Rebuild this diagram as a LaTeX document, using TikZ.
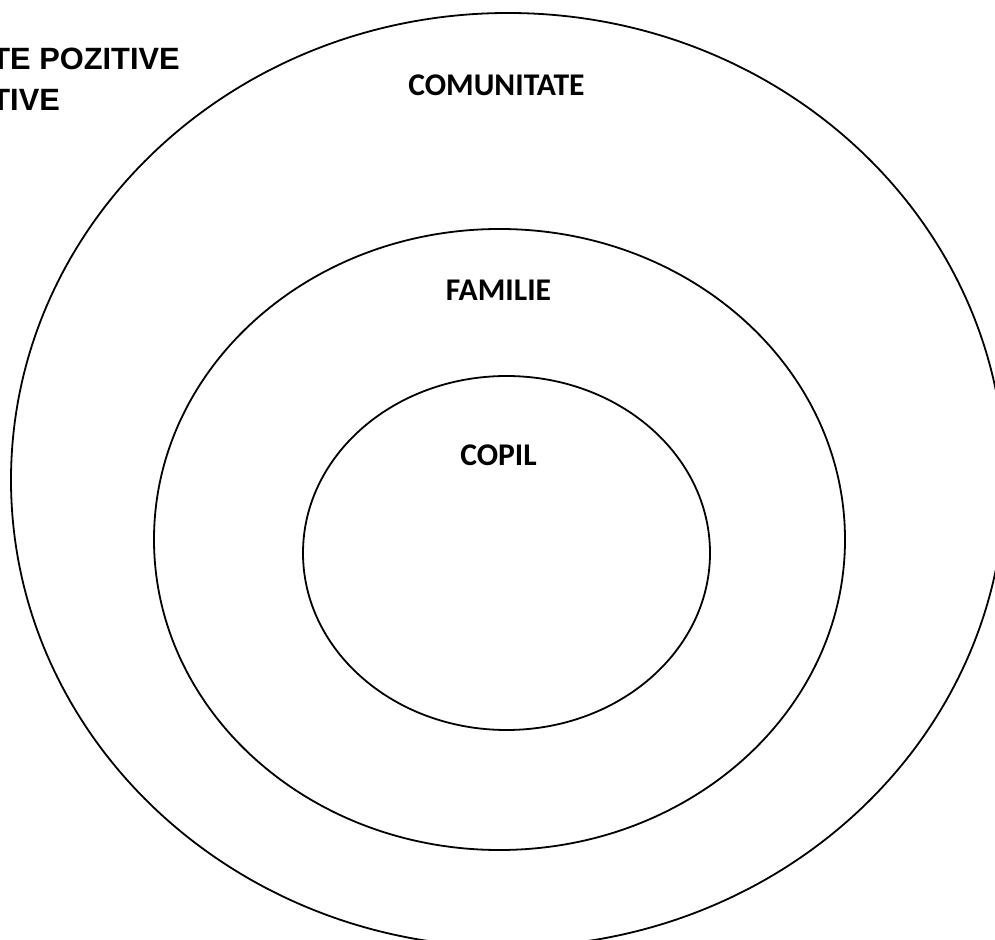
\documentclass[tikz,border=0pt]{standalone}
\usepackage{fontspec}
\setmainfont{Carlito}
\newfontfamily\arialfont{Liberation Sans}
\usepackage{tikz}
\usetikzlibrary{positioning}

\tikzset{
  ring/.style={draw=black,line width=0.9pt},
  eticheta/.style={font=\bfseries\fontsize{15.8}{18}\selectfont,inner sep=0pt},
  titlu/.style={font=\arialfont\bfseries\fontsize{15.4}{18}\selectfont,inner sep=0pt,anchor=base west}
}

\begin{document}
\begin{tikzpicture}[x=0.5pt,y=-0.5pt]
        \useasboundingbox (0,0) rectangle (995,940);
        % Cercuri
        \draw[ring] (508,480) ellipse [x radius=497,y radius=467];
        \draw[ring] (499.5,539.5) ellipse [x radius=345.5,y radius=310.5];
        \draw[ring] (506.5,553) ellipse [x radius=203.5,y radius=177];
        % Etichete
        \node[eticheta] (comunitate) at (496.5,85) {COMUNITATE};
        \node[eticheta] (familie) at (498.5,290) {FAMILIE};
        \node[eticheta] (copil) at (498.5,455.5) {COPIL};
        % Text taiat in stanga
        \node[titlu] (pozitive) at (-9,70) {TE POZITIVE};
        \node[titlu] (negative) at (-9,111) {TIVE};
\end{tikzpicture}
\end{document}
